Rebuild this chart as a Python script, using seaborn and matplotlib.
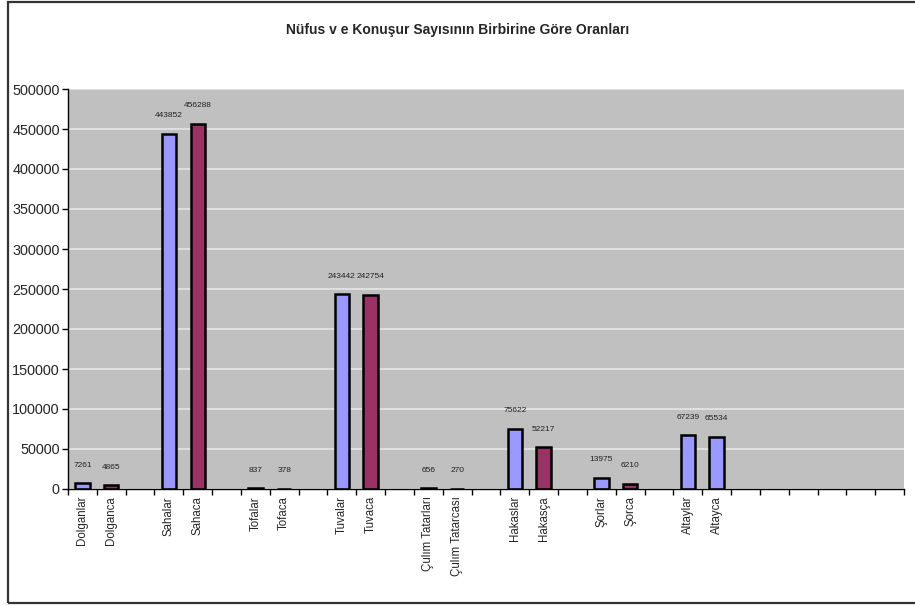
import matplotlib
matplotlib.use("Agg")
import matplotlib.pyplot as plt
import seaborn as sns
import pandas as pd
import numpy as np
from matplotlib.patches import Rectangle
from matplotlib.ticker import FixedLocator, FuncFormatter, MultipleLocator

# Category slots along the x axis ("" = empty slot between groups)
categories = [
    "Dolganlar", "Dolganca", "",
    "Sahalar", "Sahaca", "",
    "Tofalar", "Tofaca", "",
    "Tuvalar", "Tuvaca", "",
    "Çulım Tatarları", "Çulım Tatarcası", "",
    "Hakaslar", "Hakasça", "",
    "Şorlar", "Şorca", "",
    "Altaylar", "Altayca",
    "", "", "", "", "", "",
]
values = [
    7261, 4865, None,
    443852, 456288, None,
    837, 378, None,
    243442, 242754, None,
    656, 270, None,
    75622, 52217, None,
    13975, 6210, None,
    67239, 65534,
    None, None, None, None, None, None,
]
BLUE = "#9999FF"
MAROON = "#993366"
bar_colors = [
    BLUE, MAROON, None,
    BLUE, MAROON, None,
    BLUE, MAROON, None,
    BLUE, MAROON, None,
    BLUE, MAROON, None,
    BLUE, MAROON, None,
    BLUE, MAROON, None,
    BLUE, BLUE,
    None, None, None, None, None, None,
]
title = "Nüfus v e Konuşur Sayısının Birbirine Göre Oranları"

sns.set_theme(style="white")
plt.rcParams["font.family"] = ["Liberation Sans", "DejaVu Sans"]

df = pd.DataFrame({"slot": range(len(categories)), "name": categories, "value": values})
bars = df.dropna(subset=["value"]).copy()
palette = {s: c for s, c in zip(df["slot"], bar_colors) if c is not None}

fig = plt.figure(figsize=(9.15, 6.06), dpi=100)
fig.patch.set_facecolor("white")
ax = fig.add_axes([68 / 915, 1 - 489 / 606, (904 - 68) / 915, (489 - 89) / 606])
ax.set_facecolor("#C0C0C0")

sns.barplot(data=bars, x="slot", y="value", hue="slot", palette=palette,
            order=list(df["slot"]), native_scale=True, width=0.5, saturation=1,
            edgecolor="black", linewidth=1.8, legend=False, ax=ax)

# value labels above each bar
for _, row in bars.iterrows():
    ax.annotate(f"{int(row['value'])}", (row["slot"], row["value"]),
                xytext=(0, 10.5), textcoords="offset points",
                ha="center", va="bottom", fontsize=6, color="#222222")

ax.set_xlim(-0.5, len(categories) - 0.5)
ax.set_ylim(0, 500000)
ax.yaxis.set_major_locator(MultipleLocator(50000))
ax.yaxis.set_major_formatter(FuncFormatter(lambda v, p: f"{int(v)}"))
ax.grid(axis="y", color="#E6E6E6", linewidth=1.2)
ax.set_axisbelow(True)

ax.set_xticks(range(len(categories)))
ax.set_xticklabels(categories, rotation=90, fontsize=8.3)
ax.xaxis.set_minor_locator(FixedLocator(np.arange(-0.5, len(categories), 1.0)))
ax.tick_params(axis="x", which="major", length=0, pad=5)
ax.tick_params(axis="x", which="minor", length=4, width=1, color="black", direction="out", bottom=True)
ax.tick_params(axis="y", length=4, width=1, color="black", direction="out", left=True, labelsize=10.4, pad=2)
ax.set_xlabel("")
ax.set_ylabel("")

for side in ["top", "right"]:
    ax.spines[side].set_visible(False)
for side in ["left", "bottom"]:
    ax.spines[side].set_color("black")
    ax.spines[side].set_linewidth(1)

fig.text(0.5, 1 - 30 / 606, title, ha="center", va="center", fontsize=10, fontweight="bold")

# outer chart frame (runs past the right edge)
fig.patches.append(Rectangle((7.5 / 915, 3 / 606), 915 / 915, (604.5 - 3) / 606,
                             transform=fig.transFigure, fill=False,
                             edgecolor="#333333", linewidth=1.6, clip_on=False))

fig.savefig("out.png", dpi=100)
